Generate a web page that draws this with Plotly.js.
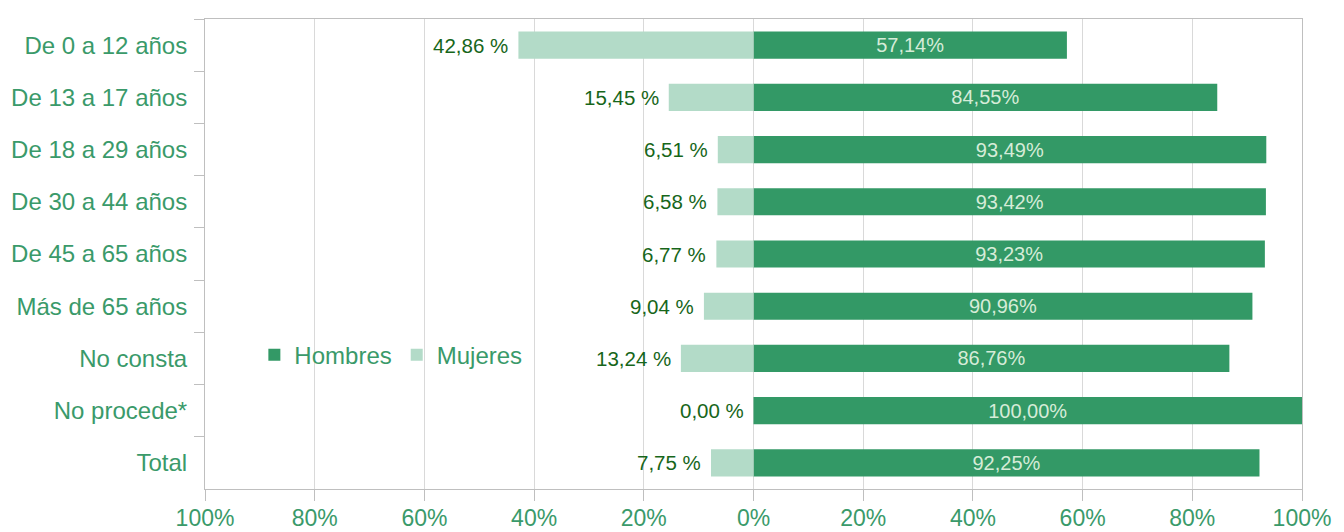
<!DOCTYPE html>
<html>
<head>
<meta charset="utf-8">
<script src="https://cdn.plot.ly/plotly-3.0.1.min.js"></script>
<style>html,body{margin:0;padding:0;background:#fff}#chart{width:1344px;height:532px}</style>
</head>
<body>
<div id="chart"></div>
<script>
const categories = ["De 0 a 12 años","De 13 a 17 años","De 18 a 29 años","De 30 a 44 años","De 45 a 65 años","Más de 65 años","No consta","No procede*","Total"];
const hombres = [57.14, 84.55, 93.49, 93.42, 93.23, 90.96, 86.76, 100.00, 92.25];
const mujeres = [42.86, 15.45, 6.51, 6.58, 6.77, 9.04, 13.24, 0.00, 7.75];
const tickVals = [-100, -80, -60, -40, -20, 0, 20, 40, 60, 80, 100];
const tickText = ["100%","80%","60%","40%","20%","0%","20%","40%","60%","80%","100%"];

const fmt = v => v.toFixed(2).replace('.', ',');
const green = '#339966';
const light = '#b3dbc8';
const labelGreen = '#3a9a6a';
const font = 'Liberation Sans, Arial, sans-serif';

const traces = [
  {
    type: 'bar', orientation: 'h', name: 'Hombres',
    y: categories, x: hombres,
    marker: {color: green},
    text: hombres.map(v => fmt(v) + '%'),
    textposition: 'inside', insidetextanchor: 'middle',
    textfont: {color: '#d6ecd8', size: 20, family: font},
    constraintext: 'none', cliponaxis: false,
    hoverinfo: 'skip'
  },
  {
    type: 'bar', orientation: 'h', name: 'Mujeres',
    y: categories, x: mujeres.map(v => -v),
    marker: {color: light},
    textposition: 'none',
    hoverinfo: 'skip'
  }
];

const annotations = mujeres.map((v, i) => ({
  x: -v, y: categories[i], xref: 'x', yref: 'y',
  text: fmt(v) + ' %', showarrow: false,
  xanchor: 'right', yanchor: 'middle', xshift: -8,
  font: {color: '#17661a', size: 20.5, family: font}
}));

const layout = {
  width: 1344, height: 532,
  margin: {l: 205, r: 42, t: 19, b: 43},
  paper_bgcolor: '#ffffff', plot_bgcolor: '#ffffff',
  barmode: 'relative', bargap: 0.48,
  font: {family: font, color: labelGreen},
  showlegend: true,
  legend: {
    orientation: 'h', x: 0.045, y: 0.285, xanchor: 'left', yanchor: 'middle',
    font: {size: 24, color: labelGreen, family: font},
    bgcolor: 'rgba(0,0,0,0)', itemwidth: 30, traceorder: 'normal'
  },
  xaxis: {
    range: [-100, 100], tickvals: tickVals, ticktext: tickText,
    showgrid: true, gridcolor: '#d9d9d9', gridwidth: 1,
    zeroline: false,
    showline: true, linecolor: '#bfbfbf', linewidth: 1, mirror: true,
    ticks: 'outside', ticklen: 11, tickcolor: '#bfbfbf',
    tickfont: {size: 23, color: labelGreen, family: font},
    ticklabelstandoff: -3,
    fixedrange: true
  },
  yaxis: {
    autorange: 'reversed', type: 'category',
    showgrid: false, zeroline: false,
    showline: true, linecolor: '#bfbfbf', linewidth: 1, mirror: true,
    ticks: 'outside', ticklen: 10, tickcolor: '#bfbfbf', tickson: 'boundaries',
    tickfont: {size: 24, color: labelGreen, family: font},
    ticklabelstandoff: 12,
    fixedrange: true
  },
  annotations: annotations
};

Plotly.newPlot('chart', traces, layout, {displayModeBar: false, staticPlot: true});
</script>
</body>
</html>
